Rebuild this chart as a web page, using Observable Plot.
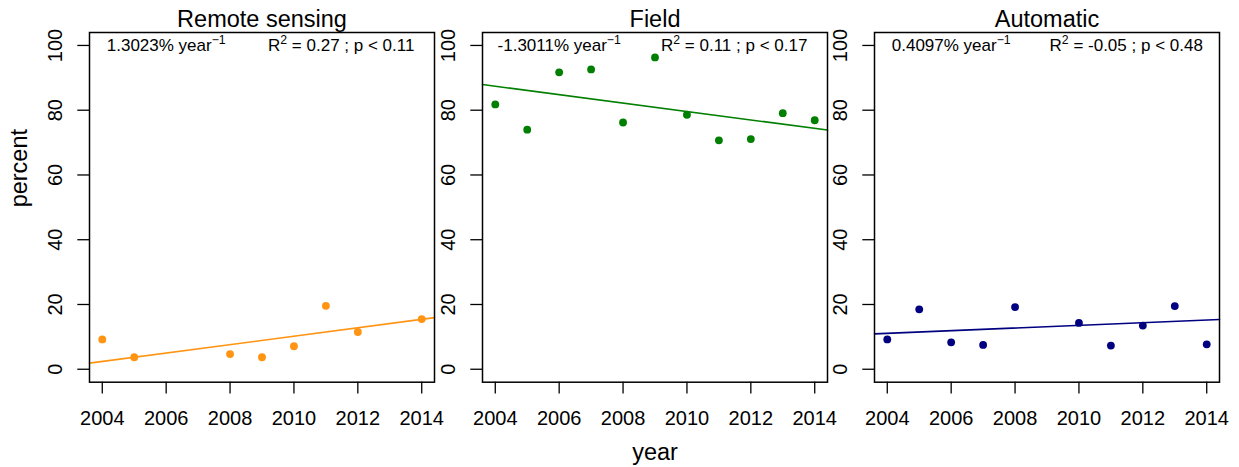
<!DOCTYPE html>
<html>
<head>
<meta charset="utf-8">
<script src="https://cdn.jsdelivr.net/npm/d3@7"></script>
<script src="https://cdn.jsdelivr.net/npm/@observablehq/plot@0.6"></script>
<style>
  html, body { margin: 0; padding: 0; background: #fff; }
  #wrap { position: relative; width: 1239px; height: 467px; overflow: hidden; }
  #wrap svg { position: absolute; top: 0; }
</style>
</head>
<body>
<div id="wrap"></div>
<script>
// ---------- data ----------
const panelTitles = ["Remote sensing", "Field", "Automatic"];

const remoteYears  = [2004, 2005, 2008, 2009, 2010, 2011, 2012, 2014];
const remoteValues = [9.2, 3.7, 4.7, 3.7, 7.1, 19.6, 11.5, 15.5];

const fieldYears  = [2004, 2005, 2006, 2007, 2008, 2009, 2010, 2011, 2012, 2013, 2014];
const fieldValues = [81.8, 74.0, 91.7, 92.6, 76.2, 96.3, 78.6, 70.7, 71.1, 79.1, 76.9];

const autoYears  = [2004, 2005, 2006, 2007, 2008, 2010, 2011, 2012, 2013, 2014];
const autoValues = [9.2, 18.5, 8.3, 7.5, 19.2, 14.3, 7.3, 13.5, 19.5, 7.7];

// regression lines: slope (% per year) and fitted value at 2004
const trendSlopes = [1.3023, -1.3011, 0.4097];
const trendAt2004 = [2.4, 87.4, 11.1];

const slopeLabels = ["1.3023% year^{−1}", "-1.3011% year^{−1}", "0.4097% year^{−1}"];
const statLabels  = ["R^{2} = 0.27 ; p < 0.11", "R^{2} = 0.11 ; p < 0.17", "R^{2} = -0.05 ; p < 0.48"];

const xTicks = [2004, 2006, 2008, 2010, 2012, 2014];
const yTicks = [0, 20, 40, 60, 80, 100];

// ---------- layout / style ----------
const FONT = '"Liberation Sans", Arial, Helvetica, sans-serif';
const colors = ["#FF9412", "#007F00", "#000080"];
const BOX_W = 345, TOP = 32, BOTTOM = 381.7, H = 467, ML = 89, MR = 6;
const boxLefts = [89, 481.7, 874.3];
const xDomain = [2003.6, 2014.4];
const yDomain = [-4, 104];

const seriesYears = [remoteYears, fieldYears, autoYears];
const seriesValues = [remoteValues, fieldValues, autoValues];

function supify(svg) {
  d3.select(svg).selectAll("text").each(function () {
    const t = this.textContent;
    const m = t.match(/^(.*?)\^\{(.*?)\}(.*)$/);
    if (!m) return;
    const fs = parseFloat(this.getAttribute("font-size") || d3.select(this.parentNode).attr("font-size") || 17);
    this.textContent = "";
    const s = d3.select(this);
    s.append("tspan").text(m[1]);
    s.append("tspan").attr("dy", -0.42 * fs).attr("font-size", 0.72 * fs).text(m[2]);
    if (m[3]) s.append("tspan").attr("dy", 0.42 * fs).text(m[3]);
  });
}

const wrap = document.getElementById("wrap");

for (let i = 0; i < 3; i++) {
  const pts = seriesYears[i].map((yr, k) => ({ year: yr, value: seriesValues[i][k] }));
  const fit = xDomain.map(x => ({ year: x, value: trendAt2004[i] + trendSlopes[i] * (x - 2004) }));

  const marks = [
    Plot.axisX({ ticks: xTicks, tickFormat: "d", tickSize: 11.7, tickPadding: 16.5, fontSize: 20, strokeWidth: 1.3, label: null }),
    Plot.axisY({ ticks: yTicks, tickSize: 11.7, tickRotate: -90, tickPadding: 15.6, fontSize: 20, strokeWidth: 1.3, label: null }),
    Plot.line(fit, { x: "year", y: "value", stroke: colors[i], strokeWidth: 1.6 }),
    Plot.dot(pts, { x: "year", y: "value", r: 3.9, fill: colors[i], stroke: "none" }),
    Plot.frame({ stroke: "black", strokeWidth: 1.5 }),
    Plot.text([panelTitles[i]], { frameAnchor: "top", dy: -5.3, lineAnchor: "bottom", fontSize: 23.5, fill: "black" }),
    Plot.text([{ x: 2006, y: 100, label: slopeLabels[i] }], { x: "x", y: "y", text: "label", fontSize: 17, fill: "black", textAnchor: "middle" }),
    Plot.text([{ x: 2011.48, y: 100, label: statLabels[i] }], { x: "x", y: "y", text: "label", fontSize: 17, fill: "black", textAnchor: "middle" })
  ];
  if (i === 0) {
    marks.push(Plot.text(["percent"], { frameAnchor: "left", dx: -70, rotate: -90, fontSize: 23.5, fill: "black" }));
  }
  if (i === 1) {
    marks.push(Plot.text(["year"], { frameAnchor: "bottom", dy: 77.5, lineAnchor: "bottom", fontSize: 23.5, fill: "black" }));
  }

  const svg = Plot.plot({
    width: ML + BOX_W + MR,
    height: H,
    marginLeft: ML,
    marginRight: MR,
    marginTop: TOP,
    marginBottom: H - BOTTOM,
    x: { domain: xDomain },
    y: { domain: yDomain },
    style: { fontFamily: FONT, fontSize: "20px", background: "transparent", overflow: "visible", color: "black" },
    marks
  });
  svg.style.left = (boxLefts[i] - ML) + "px";
  supify(svg);
  wrap.appendChild(svg);
}
</script>
</body>
</html>
